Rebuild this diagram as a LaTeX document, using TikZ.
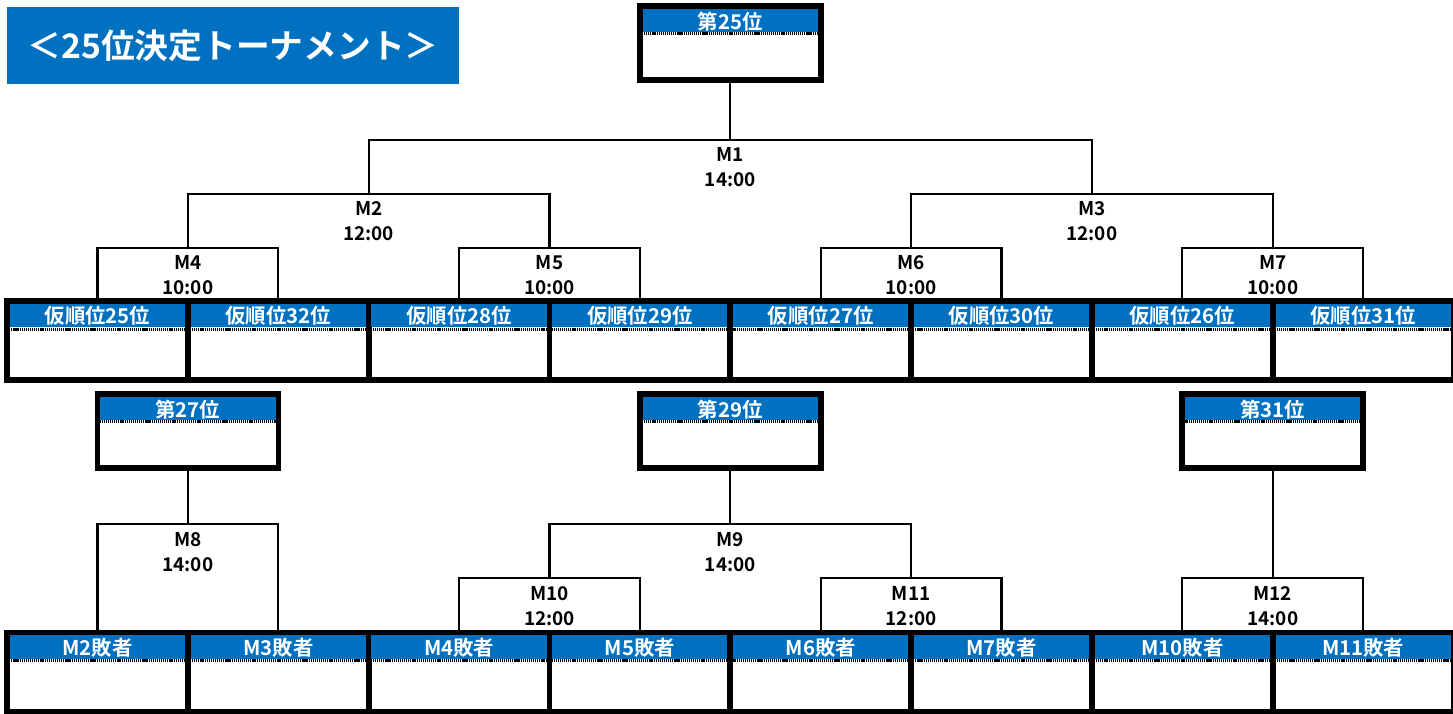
\documentclass[tikz,border=0pt]{standalone}
\usepackage{fontspec}
\setmainfont{Noto Sans CJK JP}[BoldFont={Noto Sans CJK JP Bold}]
\usetikzlibrary{positioning}
\definecolor{hdrblue}{RGB}{0,112,192}

\begin{document}
\begin{tikzpicture}[
    x=0.025cm, y=-0.025cm,
    slot/.style={draw, line width=4pt, inner sep=0pt, minimum width=4.52cm, minimum height=1.97cm,
                 path picture={
                   \fill[hdrblue] (path picture bounding box.north west) rectangle
                     ([yshift=-0.65cm]path picture bounding box.north east);
                   \draw[line width=0.075cm, dash pattern=on 0.03cm off 0.022cm]
                     ([yshift=-0.7cm]path picture bounding box.north west) --
                     ([yshift=-0.7cm]path picture bounding box.north east);
                 }},
    rank/.style={slot, minimum height=1.85cm},
    hdr/.style={anchor=center, yshift=-0.45cm, text=white, font=\fontsize{14.5}{16}\selectfont\bfseries},
    match/.style={align=center, font=\fontsize{13.5}{17.8}\selectfont\bfseries},
    link/.style={line width=1.5pt}
  ]
  \useasboundingbox (0,0) rectangle (1453,714);

  % Title
  \node[fill=hdrblue, text=white, minimum width=11.3cm, minimum height=1.925cm, inner sep=0pt,
        font=\fontsize{24}{28}\selectfont\bfseries] (title) at (233,45.5) {＜25位決定トーナメント＞};

  % Final places
  \node[rank, label={[hdr]north:第25位}] (rank25) at (730.3,43) {};
  \node[rank, label={[hdr]north:第27位}] (rank27) at (187.9,431) {};
  \node[rank, label={[hdr]north:第29位}] (rank29) at (730.3,431) {};
  \node[rank, label={[hdr]north:第31位}] (rank31) at (1272.7,431) {};

  % Upper row - provisional places
  \node[slot, label={[hdr]north:仮順位25位}] (p25) at (97.5,340.5) {};
  \node[slot, label={[hdr]north:仮順位32位}] (p32) at (278.3,340.5) {};
  \node[slot, label={[hdr]north:仮順位28位}] (p28) at (459.1,340.5) {};
  \node[slot, label={[hdr]north:仮順位29位}] (p29) at (639.9,340.5) {};
  \node[slot, label={[hdr]north:仮順位27位}] (p27) at (820.7,340.5) {};
  \node[slot, label={[hdr]north:仮順位30位}] (p30) at (1001.5,340.5) {};
  \node[slot, label={[hdr]north:仮順位26位}] (p26) at (1182.3,340.5) {};
  \node[slot, label={[hdr]north:仮順位31位}] (p31) at (1363.1,340.5) {};

  % Lower row - losers
  \node[slot, label={[hdr]north:M2敗者}] (l2) at (97.5,672) {};
  \node[slot, label={[hdr]north:M3敗者}] (l3) at (278.3,672) {};
  \node[slot, label={[hdr]north:M4敗者}] (l4) at (459.1,672) {};
  \node[slot, label={[hdr]north:M5敗者}] (l5) at (639.9,672) {};
  \node[slot, label={[hdr]north:M6敗者}] (l6) at (820.7,672) {};
  \node[slot, label={[hdr]north:M7敗者}] (l7) at (1001.5,672) {};
  \node[slot, label={[hdr]north:M10敗者}] (l10) at (1182.3,672) {};
  \node[slot, label={[hdr]north:M11敗者}] (l11) at (1363.1,672) {};

  % Match points
  \coordinate (m1) at (730.3,140);
  \coordinate (m2) at (368.7,194);
  \coordinate (m3) at (1091.9,194);
  \coordinate (m4) at (187.9,248);
  \coordinate (m5) at (549.5,248);
  \coordinate (m6) at (911.1,248);
  \coordinate (m7) at (1272.7,248);
  \coordinate (m8) at (187.9,524);
  \coordinate (m9) at (730.3,524);
  \coordinate (m10) at (549.5,578);
  \coordinate (m11) at (911.1,578);
  \coordinate (m12) at (1272.7,578);

  % Match labels
  \node[match] (m1t) at (730.3,167.5) {M1\\14:00};
  \node[match] (m2t) at (368.7,221) {M2\\12:00};
  \node[match] (m3t) at (1091.9,221) {M3\\12:00};
  \node[match] (m4t) at (187.9,275) {M4\\10:00};
  \node[match] (m5t) at (549.5,275) {M5\\10:00};
  \node[match] (m6t) at (911.1,275) {M6\\10:00};
  \node[match] (m7t) at (1272.7,275) {M7\\10:00};
  \node[match] (m8t) at (187.9,552) {M8\\14:00};
  \node[match] (m9t) at (730.3,552) {M9\\14:00};
  \node[match] (m10t) at (549.5,606) {M10\\12:00};
  \node[match] (m11t) at (911.1,606) {M11\\12:00};
  \node[match] (m12t) at (1272.7,606) {M12\\14:00};

  % Upper bracket
  \draw[link] (rank25) -- (m1);
  \draw[link] (m2) |- (m1) -| (m3);
  \draw[link] (m4) |- (m2) -| (m5);
  \draw[link] (m6) |- (m3) -| (m7);
  \draw[link] (p25.north) |- (m4) -| (p32.north);
  \draw[link] (p28.north) |- (m5) -| (p29.north);
  \draw[link] (p27.north) |- (m6) -| (p30.north);
  \draw[link] (p26.north) |- (m7) -| (p31.north);

  % Lower brackets
  \draw[link] (rank27) -- (m8);
  \draw[link] (l2.north) |- (m8) -| (l3.north);
  \draw[link] (rank29) -- (m9);
  \draw[link] (m10) |- (m9) -| (m11);
  \draw[link] (l4.north) |- (m10) -| (l5.north);
  \draw[link] (l6.north) |- (m11) -| (l7.north);
  \draw[link] (rank31) -- (m12);
  \draw[link] (l10.north) |- (m12) -| (l11.north);

\end{tikzpicture}
\end{document}
